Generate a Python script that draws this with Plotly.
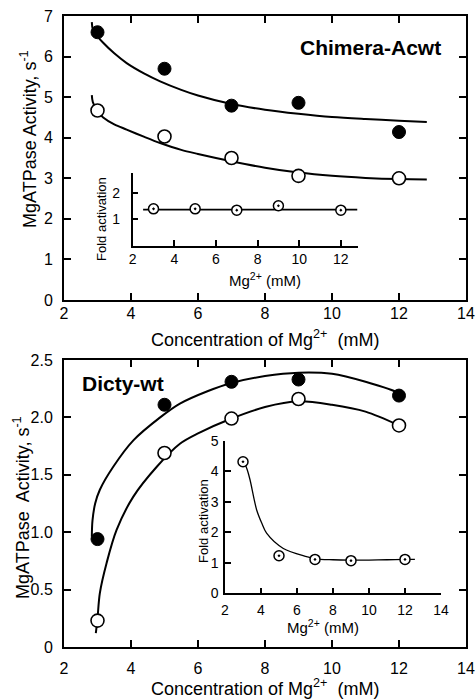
import plotly.graph_objects as go

# ---------------- data ----------------
x_conc = [3, 5, 7, 9, 12]

# Chimera-Acwt (top panel)
chim_filled = [6.60, 5.70, 4.79, 4.86, 4.14]
chim_open = [4.67, 4.03, 3.50, 3.06, 3.00]
chim_fit_x = [2.83, 2.86, 3.0, 3.17, 3.5, 3.87, 4.4, 4.87, 5.5, 6, 7, 8, 9, 10, 11, 12, 12.83]
chim_fit_hi = [6.85, 6.68, 6.50, 6.34, 6.08, 5.84, 5.58, 5.39, 5.18, 5.04, 4.83, 4.69, 4.59, 4.51, 4.46, 4.42, 4.39]
chim_fit_lo = [5.05, 4.88, 4.65, 4.50, 4.33, 4.20, 4.02, 3.87, 3.70, 3.60, 3.42, 3.26, 3.14, 3.06, 3.01, 2.98, 2.97]
chim_fold = [1.40, 1.40, 1.35, 1.52, 1.35]
chim_fold_fit_x = [2.5, 12.8]
chim_fold_fit = [1.37, 1.37]

# Dicty-wt (bottom panel)
dicty_filled = [0.94, 2.11, 2.31, 2.33, 2.19]
dicty_open = [0.23, 1.69, 1.99, 2.16, 1.93]
dicty_fit_hi_x = [2.83, 2.85, 2.93, 3.07, 3.47, 4.07, 4.87, 5.46, 6.3, 7, 8, 9, 10, 11, 12, 12.15]
dicty_fit_hi = [0.96, 1.10, 1.25, 1.37, 1.57, 1.80, 2.0, 2.12, 2.23, 2.30, 2.36, 2.39, 2.38, 2.31, 2.21, 2.17]
dicty_fit_lo_x = [2.95, 3.0, 3.07, 3.27, 3.57, 4.07, 4.77, 5.46, 6, 7, 8, 9, 10, 11, 12]
dicty_fit_lo = [0.12, 0.25, 0.47, 0.73, 1.02, 1.31, 1.57, 1.77, 1.86, 1.99, 2.09, 2.14, 2.11, 2.05, 1.93]
dicty_fold = [4.31, 1.23, 1.11, 1.07, 1.11]
dicty_fold_fit_x = [3.06, 3.24, 3.39, 3.76, 4.04, 4.31, 5.24, 6.54, 7.0, 8, 9, 10, 11, 12, 12.55]
dicty_fold_fit = [4.31, 4.04, 3.72, 2.73, 2.30, 1.97, 1.47, 1.20, 1.13, 1.10, 1.09, 1.09, 1.10, 1.11, 1.11]

main_xticks = [2, 4, 6, 8, 10, 12, 14]
top_yticks = [0, 1, 2, 3, 4, 5, 6, 7]
bot_yticks = [0, 0.5, 1.0, 1.5, 2.0, 2.5]
bot_yticktext = ["0", "0.5", "1.0", "1.5", "2.0", "2.5"]

W, H = 476, 700
FONT = "Liberation Sans, Arial, Helvetica, sans-serif"


def px(x):
    return x / W


def py(y):
    return 1 - y / H


fig = go.Figure()

fit_line = dict(color="black", width=2, shape="spline", smoothing=0.9)
filled_mk = dict(size=13, color="black", line=dict(color="black", width=1))
open_mk = dict(size=13, color="white", line=dict(color="black", width=1.6))
dot_mk = dict(size=10, symbol="circle-dot", color="white", line=dict(color="black", width=1.5))

# ---- top main ----
fig.add_trace(go.Scatter(x=chim_fit_x, y=chim_fit_hi, mode="lines", line=fit_line, xaxis="x", yaxis="y"))
fig.add_trace(go.Scatter(x=chim_fit_x, y=chim_fit_lo, mode="lines", line=fit_line, xaxis="x", yaxis="y"))
fig.add_trace(go.Scatter(x=x_conc, y=chim_filled, mode="markers", marker=filled_mk, xaxis="x", yaxis="y"))
fig.add_trace(go.Scatter(x=x_conc, y=chim_open, mode="markers", marker=open_mk, xaxis="x", yaxis="y"))

# ---- top inset ----
fig.add_trace(go.Scatter(x=chim_fold_fit_x, y=chim_fold_fit, mode="lines", line=dict(color="black", width=1.6), xaxis="x2", yaxis="y2"))
fig.add_trace(go.Scatter(x=x_conc, y=chim_fold, mode="markers", marker=dot_mk, xaxis="x2", yaxis="y2"))

# ---- bottom main ----
fig.add_trace(go.Scatter(x=dicty_fit_hi_x, y=dicty_fit_hi, mode="lines", line=fit_line, xaxis="x3", yaxis="y3"))
fig.add_trace(go.Scatter(x=dicty_fit_lo_x, y=dicty_fit_lo, mode="lines", line=fit_line, xaxis="x3", yaxis="y3"))
fig.add_trace(go.Scatter(x=x_conc, y=dicty_filled, mode="markers", marker=filled_mk, xaxis="x3", yaxis="y3"))
fig.add_trace(go.Scatter(x=x_conc, y=dicty_open, mode="markers", marker=open_mk, xaxis="x3", yaxis="y3"))

# ---- bottom inset ----
fig.add_trace(go.Scatter(x=dicty_fold_fit_x, y=dicty_fold_fit, mode="lines", line=dict(color="black", width=1.3, shape="spline", smoothing=0.9), xaxis="x4", yaxis="y4"))
fig.add_trace(go.Scatter(x=x_conc, y=dicty_fold, mode="markers", marker=dot_mk, xaxis="x4", yaxis="y4"))

main_ax = dict(showgrid=False, zeroline=False, showline=True, linecolor="black", linewidth=2,
               mirror="ticks", ticks="inside", ticklen=7, tickwidth=1.5, tickcolor="black",
               automargin=False,
               tickfont=dict(family=FONT, size=16, color="black"))
inset_ax = dict(showgrid=False, zeroline=False, showline=True, linecolor="black", linewidth=1.5,
                mirror=False, ticks="inside", ticklen=6, tickwidth=1.5, tickcolor="black",
                automargin=False,
                tickfont=dict(family=FONT, size=14, color="black"))

fig.update_layout(
    width=W, height=H, margin=dict(l=0, r=0, t=0, b=0, autoexpand=False), autosize=False,
    paper_bgcolor="white", plot_bgcolor="rgba(0,0,0,0)", showlegend=False,
    font=dict(family=FONT, color="black"),
    xaxis=dict(main_ax, domain=[px(64), px(466)], range=[2, 14], tickvals=main_xticks, anchor="y", ticklabelstandoff=-2),
    yaxis=dict(main_ax, domain=[py(300), py(16)], range=[0, 7], tickvals=top_yticks, anchor="x", ticklabelstandoff=6),
    xaxis2=dict(inset_ax, domain=[px(132.7), px(357.5)], range=[2, 12.8], tickvals=[2, 4, 6, 8, 10, 12], anchor="y2", ticklabelstandoff=0),
    yaxis2=dict(inset_ax, domain=[py(245.5), py(173)], range=[0, 2.77], tickvals=[1, 2], anchor="x2", ticklabelstandoff=8),
    xaxis3=dict(main_ax, domain=[px(64), px(466)], range=[2, 14], tickvals=main_xticks, anchor="y3", ticklabelstandoff=6),
    yaxis3=dict(main_ax, domain=[py(647), py(360)], range=[0, 2.5], tickvals=bot_yticks, ticktext=bot_yticktext, anchor="x3", ticklabelstandoff=6),
    xaxis4=dict(inset_ax, domain=[px(225), px(441)], range=[2, 14], tickvals=[2, 4, 6, 8, 10, 12, 14], anchor="y4", ticklabelstandoff=3),
    yaxis4=dict(inset_ax, domain=[py(593.3), py(440.7)], range=[0, 5], tickvals=[0, 1, 2, 3, 4, 5], anchor="x4", ticklabelstandoff=2),
)

ann = []
ann.append(dict(text="<b>Chimera-Acwt</b>", x=px(443), y=py(47), xref="paper", yref="paper", xanchor="right", yanchor="middle", showarrow=False, font=dict(family=FONT, size=21, color="black")))
ann.append(dict(text="<b>Dicty-wt</b>", x=px(80), y=py(383), xref="paper", yref="paper", xanchor="left", yanchor="middle", showarrow=False, font=dict(family=FONT, size=21, color="black")))
for yc in (339, 687):
    ann.append(dict(text="Concentration of Mg<sup>2+</sup>  (mM)", x=px(265), y=py(yc), xref="paper", yref="paper", xanchor="center", yanchor="middle", showarrow=False, font=dict(family=FONT, size=18, color="black")))
ann.append(dict(text="MgATPase Activity, s<sup>-1</sup>", x=px(28), y=py(139), xref="paper", yref="paper", xanchor="center", yanchor="middle", textangle=-90, showarrow=False, font=dict(family=FONT, size=18, color="black")))
ann.append(dict(text="MgATPase  Activity, s<sup>-1</sup>", x=px(21), y=py(508), xref="paper", yref="paper", xanchor="center", yanchor="middle", textangle=-90, showarrow=False, font=dict(family=FONT, size=18, color="black")))
ann.append(dict(text="Mg<sup>2+</sup> (mM)", x=px(265), y=py(279), xref="paper", yref="paper", xanchor="center", yanchor="middle", showarrow=False, font=dict(family=FONT, size=15, color="black")))
ann.append(dict(text="Mg<sup>2+</sup> (mM)", x=px(323), y=py(626), xref="paper", yref="paper", xanchor="center", yanchor="middle", showarrow=False, font=dict(family=FONT, size=15, color="black")))
ann.append(dict(text="Fold activation", x=px(102), y=py(219), xref="paper", yref="paper", xanchor="center", yanchor="middle", textangle=-90, showarrow=False, font=dict(family=FONT, size=13, color="black")))
ann.append(dict(text="Fold activation", x=px(203), y=py(521), xref="paper", yref="paper", xanchor="center", yanchor="middle", textangle=-90, showarrow=False, font=dict(family=FONT, size=13, color="black")))

fig.update_layout(annotations=ann)
fig.write_html(
    "out.html",
    post_script="document.body.style.margin='0';document.body.style.overflow='hidden';",
)
